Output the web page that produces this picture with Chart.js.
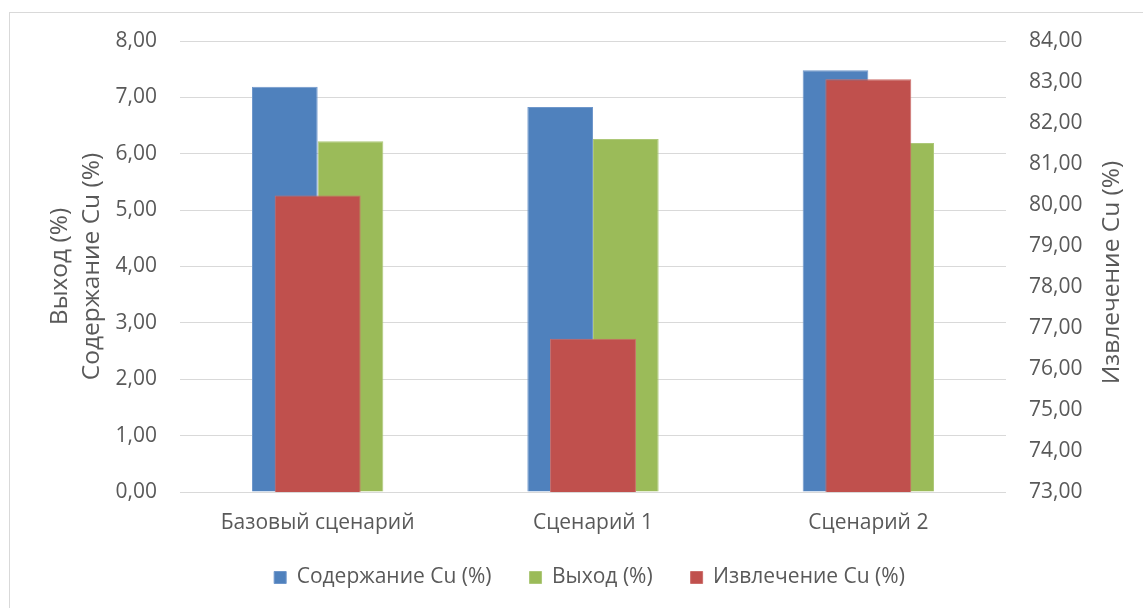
<!DOCTYPE html>
<html lang="ru">
<head>
<meta charset="utf-8">
<title>Сценарии</title>
<script src="https://cdn.jsdelivr.net/npm/chart.js@4"></script>
<style>
  html, body { margin: 0; padding: 0; background: #ffffff; overflow: hidden; }
  #frame {
    position: absolute; left: 9px; top: 12px; width: 1300px; height: 800px;
    border-left: 1px solid #d9d9d9; border-top: 1px solid #d9d9d9;
  }
  #chart { position: absolute; left: 0; top: 0; }
</style>
</head>
<body>
<div id="frame"></div>
<canvas id="chart" width="1143" height="608"></canvas>
<script>
// Scenario names shown along the category axis
const categories = ['Базовый сценарий', 'Сценарий 1', 'Сценарий 2'];

// Series values, %
const copperGrade = [7.19, 6.83, 7.48];       // Содержание Cu (%)
const massYield = [6.22, 6.26, 6.19];         // Выход (%)
const copperRecovery = [80.23, 76.74, 83.07]; // Извлечение Cu (%)

// Axis ranges
const leftAxisRange = [0, 8];
const rightAxisRange = [73, 84];

const seriesNames = ['Содержание Cu (%)', 'Выход (%)', 'Извлечение Cu (%)'];
const leftTitle = ['Выход (%)', 'Содержание Cu (%)'];
const rightTitle = 'Извлечение Cu (%)';

const textColor = '#595959';
const gridColor = '#d9d9d9';
const fontFamily = '"Open Sans", "DejaVu Sans", sans-serif';
const labelSize = 21;
const titleSize = 24.5;

const fmt = v => Number(v).toFixed(2).replace('.', ',');

// Right-hand axis title, drawn reading bottom-to-top
const rightTitlePlugin = {
  id: 'rightTitle',
  afterDraw(chart) {
    const {ctx, chartArea} = chart;
    ctx.save();
    ctx.translate(1112, (chartArea.top + chartArea.bottom) / 2 + 6);
    ctx.rotate(-Math.PI / 2);
    ctx.font = titleSize + 'px ' + fontFamily;
    ctx.fillStyle = textColor;
    ctx.textAlign = 'center';
    ctx.textBaseline = 'middle';
    ctx.fillText(rightTitle, 0, 0);
    ctx.restore();
  }
};

new Chart(document.getElementById('chart'), {
  type: 'bar',
  data: {
    labels: categories,
    datasets: [
      {
        label: seriesNames[0], data: copperGrade,
        backgroundColor: '#4f81bd', borderColor: '#6f97cb', borderWidth: 1,
        yAxisID: 'y', order: 1,
        categoryPercentage: 0.477, barPercentage: 1
      },
      {
        label: seriesNames[1], data: massYield,
        backgroundColor: '#9bbb59', borderColor: '#adc878', borderWidth: 1,
        yAxisID: 'y', order: 1,
        categoryPercentage: 0.477, barPercentage: 1
      },
      {
        // centred on the category, drawn over the pair of bars
        label: seriesNames[2], data: copperRecovery,
        backgroundColor: '#c0504d', borderColor: '#cc6e6b', borderWidth: 1,
        yAxisID: 'y2', order: 0, grouped: false,
        categoryPercentage: 0.312, barPercentage: 1
      }
    ]
  },
  options: {
    responsive: false,
    animation: false,
    devicePixelRatio: 1,
    layout: { padding: { top: 41, right: 0, left: 36, bottom: 10 } },
    plugins: {
      tooltip: { enabled: false },
      legend: {
        position: 'bottom',
        labels: {
          color: textColor,
          font: { family: fontFamily, size: labelSize },
          boxWidth: 12, boxHeight: 12, padding: 38,
          sort: (a, b) => a.datasetIndex - b.datasetIndex
        }
      }
    },
    scales: {
      x: {
        position: 'bottom',
        grid: { display: false, drawTicks: false },
        border: { display: false },
        ticks: { color: textColor, font: { family: fontFamily, size: labelSize }, padding: 18, maxRotation: 0 },
        afterFit: s => {
          s.height = 37;
          // category labels may extend below the compact axis box
          s._computeLabelArea = () => undefined;
        }
      },
      y: {
        position: 'left',
        min: leftAxisRange[0], max: leftAxisRange[1],
        grid: { color: gridColor, lineWidth: 1, drawTicks: false },
        border: { display: false },
        ticks: {
          stepSize: 1, color: textColor, padding: 23,
          font: { family: fontFamily, size: labelSize },
          callback: v => fmt(v)
        },
        title: {
          display: true, text: leftTitle, color: textColor,
          font: { family: fontFamily, size: titleSize, lineHeight: 1.3 },
          padding: { top: 8, bottom: 0 }
        },
        afterFit: s => { s.width = 144; }
      },
      y2: {
        position: 'right',
        min: rightAxisRange[0], max: rightAxisRange[1],
        grid: { drawOnChartArea: false, drawTicks: false },
        border: { display: false },
        ticks: {
          stepSize: 1, color: textColor, padding: 23,
          font: { family: fontFamily, size: labelSize },
          callback: v => fmt(v)
        },
        afterFit: s => { s.width = 137; }
      }
    }
  },
  plugins: [rightTitlePlugin]
});
</script>
</body>
</html>
